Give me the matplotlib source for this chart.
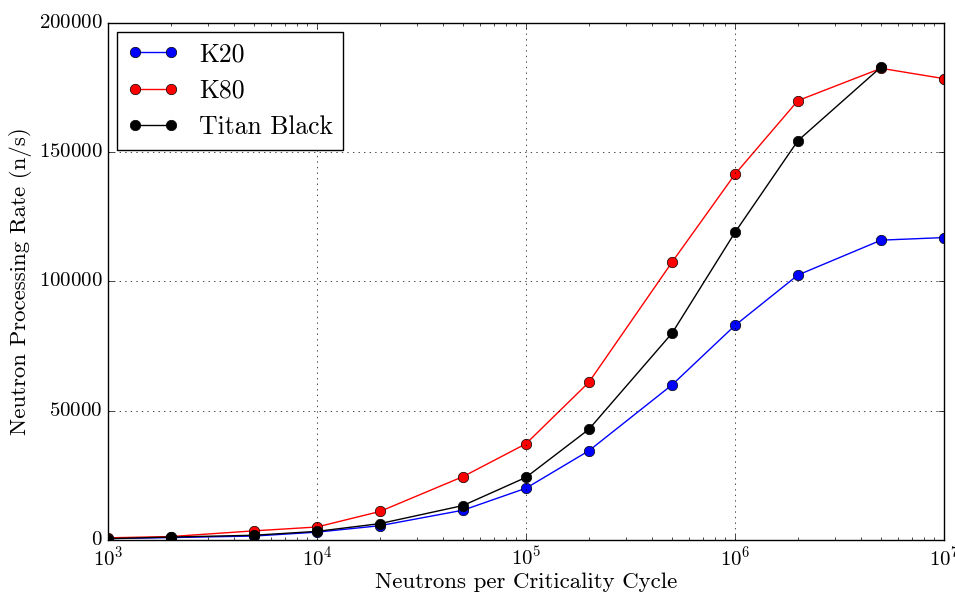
import matplotlib
matplotlib.use('Agg')
import matplotlib.pyplot as plt

neutrons = [1e3, 2e3, 5e3, 1e4, 2e4, 5e4, 1e5, 2e5, 5e5, 1e6, 2e6, 5e6, 1e7]
k20 = [500, 900, 1500, 3000, 5500, 11500, 20000, 34500, 60000, 83000, 102500, 116000, 117000]
k80 = [800, 1300, 3500, 5000, 11000, 24500, 37200, 61000, 107500, 141500, 170000, 182500, 178500]
titan_neutrons = [1e3, 2e3, 5e3, 1e4, 2e4, 5e4, 1e5, 2e5, 5e5, 1e6, 2e6, 5e6]
titan = [500, 1100, 1800, 3300, 6300, 13300, 24200, 42800, 80000, 119000, 154500, 183000]

plt.style.use('classic')
plt.rcParams['font.family'] = 'cmr10'
plt.rcParams['mathtext.fontset'] = 'cm'
plt.rcParams['axes.formatter.use_mathtext'] = True

fig = plt.figure(figsize=(9.55, 5.92), dpi=100, facecolor='white')
ax = fig.add_axes([0.113, 0.088, 0.8755, 0.873])

style = dict(marker='o', markersize=7.5, markeredgecolor='black', markeredgewidth=0.5)
ax.plot(neutrons, k20, color='blue', label='K20', **style)
ax.plot(neutrons, k80, color='red', label='K80', **style)
ax.plot(titan_neutrons, titan, color='black', label='Titan Black', **style)

ax.set_xscale('log')
ax.set_xlim(1e3, 1e7)
ax.set_ylim(0, 200000)
ax.grid(True)
ax.tick_params(labelsize=15)
ax.ticklabel_format(axis='y', style='plain', useOffset=False)

ax.set_xlabel('Neutrons per Criticality Cycle', fontsize=16.5, labelpad=2)
ax.set_ylabel('Neutron Processing Rate (n/s)', fontsize=16.5)
ax.legend(loc='upper left', fontsize=18.5, numpoints=2, borderaxespad=0.35)

fig.savefig('out.png', dpi=100, facecolor='white')
plt.close()
